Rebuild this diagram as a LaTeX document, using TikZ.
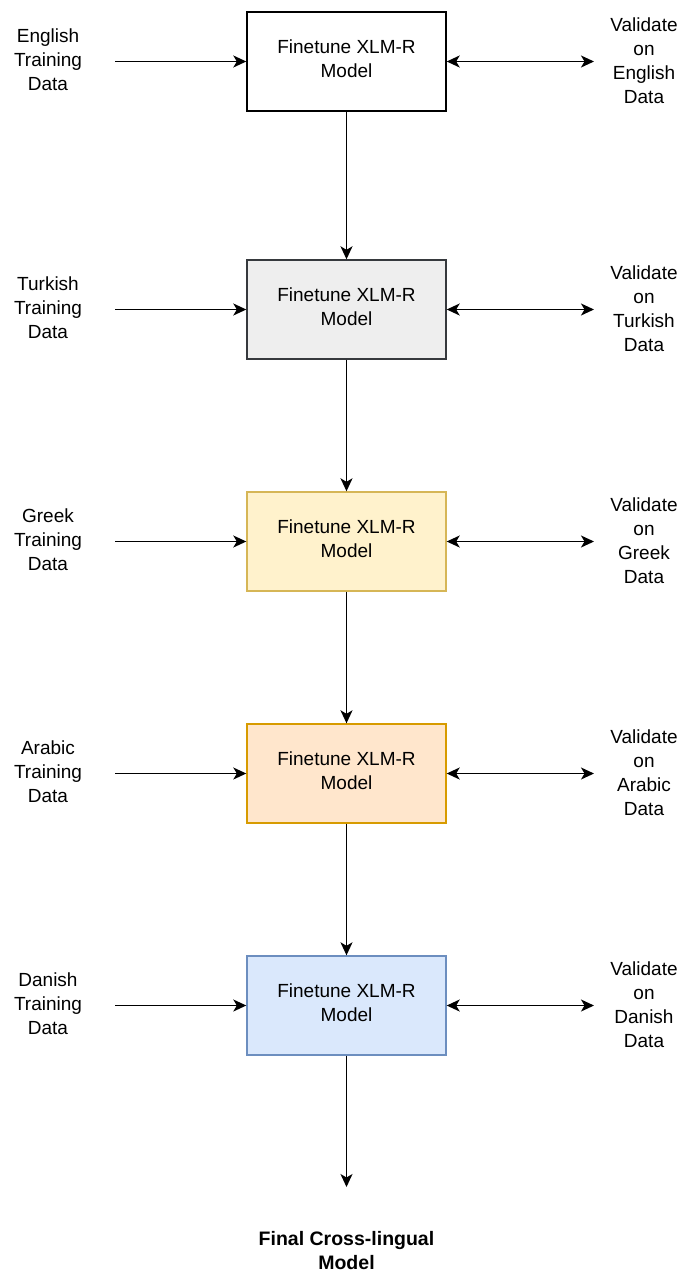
\documentclass[tikz,border=0pt]{standalone}
\usepackage{fontspec}
\setmainfont{Liberation Sans}
\usetikzlibrary{arrows.meta}
\definecolor{greyfill}{HTML}{EEEEEE}
\definecolor{greyline}{HTML}{36393D}
\definecolor{yelfill}{HTML}{FFF2CC}
\definecolor{yelline}{HTML}{D6B656}
\definecolor{orfill}{HTML}{FFE6CC}
\definecolor{orline}{HTML}{D79B00}
\definecolor{blfill}{HTML}{DAE8FC}
\definecolor{blline}{HTML}{6C8EBF}
\tikzstyle{mdl}=[draw, rectangle, minimum width = 199pt, minimum height = 99pt, align = center, line width = 1.4pt]
\tikzstyle{txt}=[align = center, inner sep = 0pt]
\tikzstyle{arr}=[line width = 1.5pt, -{Stealth[length = 13pt, width = 12pt, inset = 3.5pt]}]
\tikzstyle{darr}=[line width = 1.5pt, {Stealth[length = 13pt, width = 12pt, inset = 3.5pt]}-{Stealth[length = 13pt, width = 12pt, inset = 3.5pt]}]

\begin{document}
\begin{tikzpicture}[x = 1pt, y = -1pt, font = \fontsize{19}{24}\selectfont]
  \useasboundingbox (0,0) rectangle (681,1272);
  \foreach \lang/\y/\fc/\dc/\i in {English/61.5/white/black/1, Turkish/309.5/greyfill/greyline/2,
      Greek/541.5/yelfill/yelline/3, Arabic/773.5/orfill/orline/4, Danish/1005.5/blfill/blline/5}{
    \node[mdl, fill = \fc, draw = \dc] (m\i) at (346.5,\y) {};
    \node[txt] (f\i) at (346.5,\y-2.5) {Finetune XLM-R\\Model};
    \node[txt] (t\i) at (48,\y-2) {\lang\\Training\\Data};
    \node[txt] (v\i) at (644,\y-1) {Validate\\on\\\lang\\Data};
    \coordinate (ts\i) at (115,\y);
    \coordinate (ve\i) at (594,\y);
    \draw[arr] (ts\i) -- (m\i.west);
    \draw[darr] (m\i.east) -- (ve\i);
  }
  \draw[arr] (m1) -- (m2);
  \draw[arr] (m2) -- (m3);
  \draw[arr] (m3) -- (m4);
  \draw[arr] (m4) -- (m5);
  \coordinate (fe) at (346.5,1187);
  \draw[arr] (m5) -- (fe);
  \node[txt, font = \fontsize{19.5}{24}\selectfont\bfseries] (final) at (346.5,1251) {Final Cross-lingual\\Model};
\end{tikzpicture}
\end{document}
